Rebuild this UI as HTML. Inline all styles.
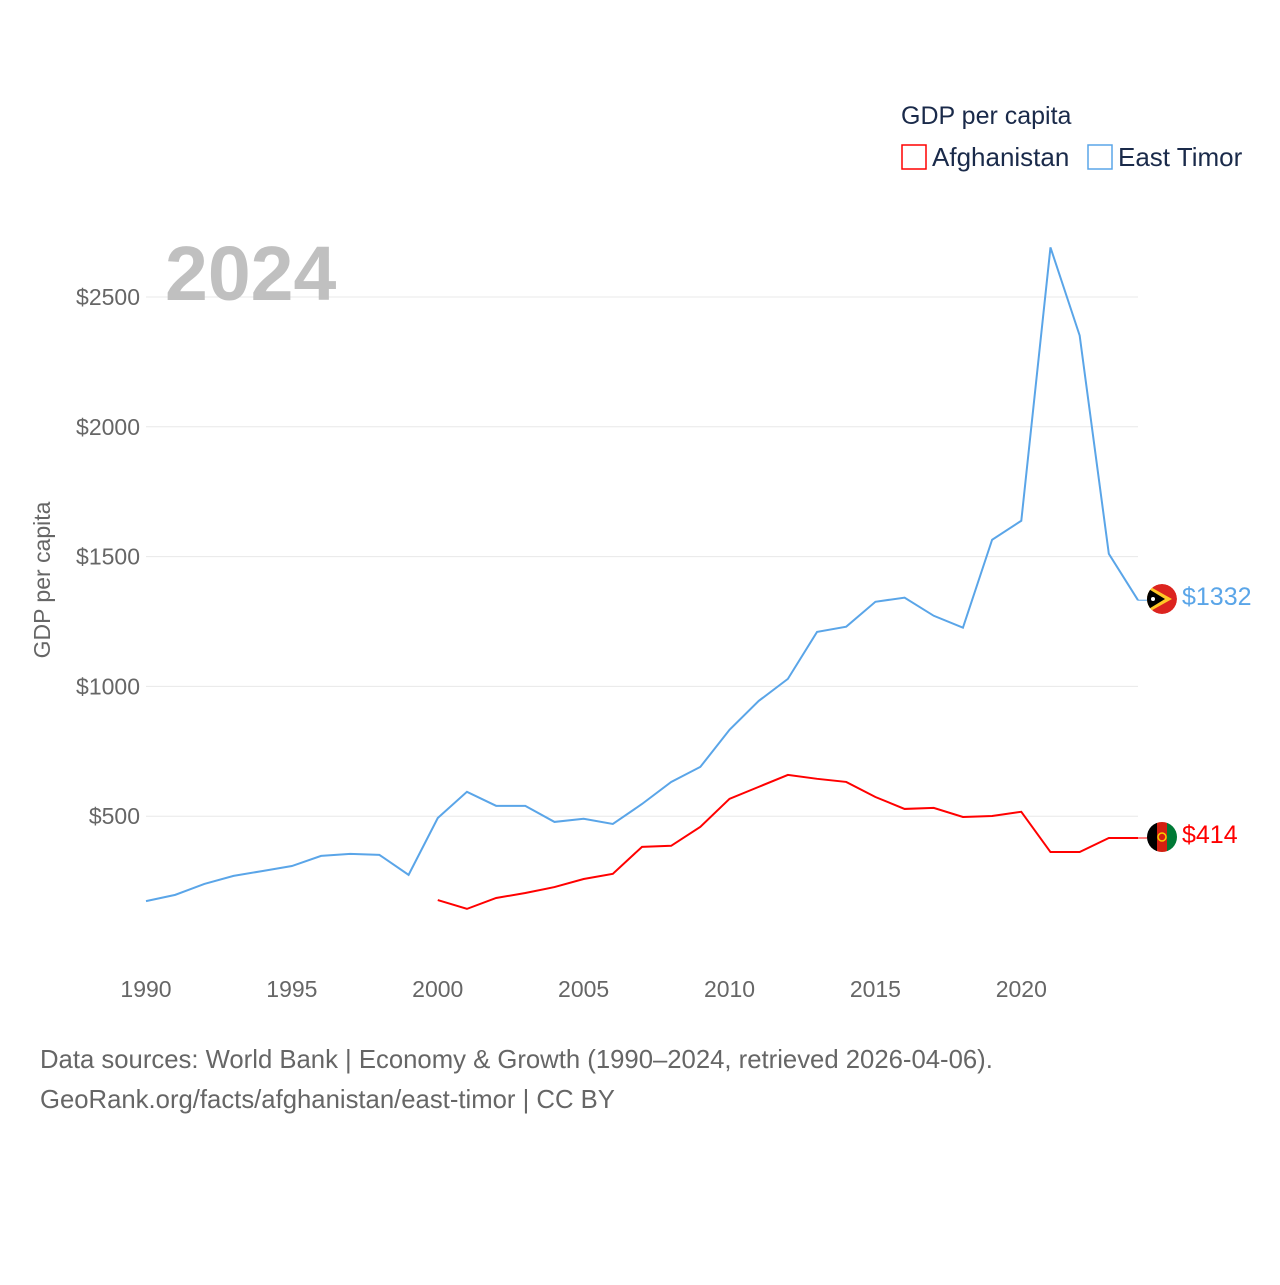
<!DOCTYPE html>
<html><head><meta charset="utf-8"><style>
body{margin:0;background:#fff;font-family:"Liberation Sans",sans-serif}
</style></head><body>
<svg width="1280" height="1280" xmlns="http://www.w3.org/2000/svg">
<defs>
<clipPath id="c1"><circle cx="1162" cy="599" r="15"/></clipPath>
<clipPath id="c2"><circle cx="1162" cy="837" r="15"/></clipPath>
</defs>
<g id="grid"></g>
<g id="ylabels" font-size="23" fill="#666" text-anchor="end"></g>
<g id="xlabels" font-size="23" fill="#666" text-anchor="middle"></g>
<text x="165" y="300" font-size="77" font-weight="bold" fill="#c0c0c0">2024</text>
<text transform="translate(50,580) rotate(-90)" font-size="23" fill="#666" text-anchor="middle">GDP per capita</text>
<g id="series"></g>
<text x="901" y="124" font-size="25" fill="#1a2a4a">GDP per capita</text>
<g><rect x="902" y="145" width="24" height="24" fill="none" stroke="#ff0000" stroke-width="1.5"/><text x="932" y="166" font-size="26" fill="#1a2a4a">Afghanistan</text></g>
<g><rect x="1088" y="145" width="24" height="24" fill="none" stroke="#5aa5e8" stroke-width="1.5"/><text x="1118" y="166" font-size="26" fill="#1a2a4a">East Timor</text></g>
<g clip-path="url(#c1)"><circle cx="1162" cy="599" r="15" fill="#dc241f"/><path d="M1147,585 L1172,599 L1147,613 Z" fill="#ffc726"/><path d="M1147,588 L1165,599 L1147,610 Z" fill="#000"/><circle cx="1153" cy="599" r="2" fill="#fff"/></g>
<g clip-path="url(#c2)"><rect x="1147" y="822" width="10" height="30" fill="#000"/><rect x="1157" y="822" width="10" height="30" fill="#d32011"/><rect x="1167" y="822" width="10" height="30" fill="#007a36"/><circle cx="1162" cy="837" r="4" fill="none" stroke="#f5d000" stroke-width="1.5"/></g>
<text x="1182" y="605" font-size="25" fill="#5aa5e8">$1332</text>
<text x="1182" y="843" font-size="25" fill="#ff0000">$414</text>
<text x="40" y="1068" font-size="25.7" fill="#666">Data sources: World Bank | Economy &amp; Growth (1990–2024, retrieved 2026-04-06).</text>
<text x="40" y="1108" font-size="25.7" fill="#666">GeoRank.org/facts/afghanistan/east-timor | CC BY</text>
</svg>
<script>
const years=[];for(let y=1990;y<=2024;y++)years.push(y);
const timorValues=[173,197,239,270,289,308,347,355,351,274,493,594,540,540,478,490,470,547,632,690,833,944,1029,1210,1230,1326,1342,1272,1226,1565,1638,2691,2352,1511,1332];
const afgYears=[2000,2001,2002,2003,2004,2005,2006,2007,2008,2009,2010,2011,2012,2013,2014,2015,2016,2017,2018,2019,2020,2021,2022,2023,2024];
const afgValues=[177,143,185,204,227,258,278,382,386,459,567,613,659,644,632,574,528,532,497,501,517,362,362,416,416];
const yTicks=[500,1000,1500,2000,2500];
const xTicks=[1990,1995,2000,2005,2010,2015,2020];
const X=y=>146+(y-1990)*(1138-146)/34;
const Y=v=>946-v*(946-297)/2500;
const NS="http://www.w3.org/2000/svg";
function mk(t,a,p){const e=document.createElementNS(NS,t);for(const k in a)e.setAttribute(k,a[k]);document.getElementById(p).appendChild(e);return e;}
yTicks.forEach(v=>{
 const l=mk('line',{x1:146,x2:1138,y1:Y(v),y2:Y(v),stroke:'#e8e8e8','stroke-width':1},'grid');
 
 
 const t=mk('text',{x:140,y:Y(v)+8},'ylabels');t.textContent='$'+v;
 
 
});
xTicks.forEach(v=>{
 const t=mk('text',{x:X(v),y:997},'xlabels');t.textContent=v;
 
 
});
const pt=timorValues.map((v,i)=>X(years[i])+','+Y(v)).join(' ');
const l1=mk('polyline',{points:pt,fill:'none',stroke:'#5aa5e8','stroke-width':2},'series');


const pa=afgValues.map((v,i)=>X(afgYears[i])+','+Y(v)).join(' ');
const l2=mk('polyline',{points:pa,fill:'none',stroke:'#ff0000','stroke-width':2},'series');


const c1=mk('line',{x1:X(2024),x2:1150,y1:Y(timorValues[34]),y2:Y(timorValues[34]),stroke:'#5aa5e8','stroke-width':1},'series');


const c2=mk('line',{x1:X(2024),x2:1150,y1:Y(afgValues[24]),y2:Y(afgValues[24]),stroke:'#ff0000','stroke-width':1},'series');


</script>
</body></html>
